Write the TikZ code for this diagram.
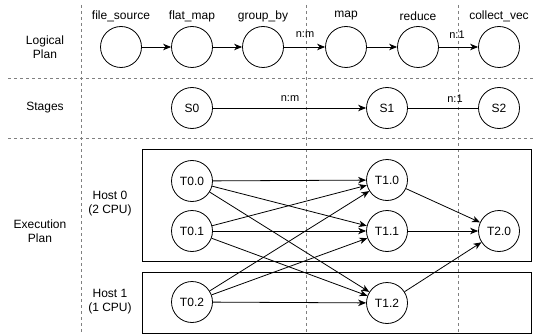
\documentclass[tikz,border=0pt]{standalone}
\usepackage{fontspec}
\setmainfont{Liberation Sans}
\usetikzlibrary{arrows.meta}
\begin{document}
\begin{tikzpicture}[x=1pt,y=-1pt,
  every node/.style={font=\fontsize{12}{14}\selectfont, align=center},
  op/.style={circle, draw, line width=0.8pt, minimum size=41pt, inner sep=0pt},
  sep/.style={draw=gray, line width=0.7pt, dash pattern=on 3pt off 3pt},
  hostbox/.style={draw, line width=0.8pt},
  arr/.style={line width=0.8pt, -{Stealth[length=8pt,width=6.5pt,inset=2.5pt]}},
  plain/.style={line width=0.8pt},
  lbl/.style={font=\fontsize{11}{13}\selectfont, inner sep=1pt}
]
\useasboundingbox (0,0) rectangle (535,334);
% separators
\draw[sep] (8,78) -- (535,78);
\draw[sep] (8,138) -- (535,138);
\draw[sep] (81,5) -- (81,334);
\draw[sep] (306,5) -- (306,334);
\draw[sep] (458,5) -- (458,334);
% row labels
\node (rl1) at (45,47) {Logical\\Plan};
\node (rl2) at (45,108) {Stages};
\node (rl3) at (40,231) {Execution\\Plan};
% logical plan
\node[op] (fs) at (121,47) {};
\node[op] (fm) at (192,47) {};
\node[op] (gb) at (263,47) {};
\node[op] (mp) at (346,47) {};
\node[op] (rd) at (418,47) {};
\node[op] (cv) at (499,47) {};
\node (tfs) at (121,16) {file\_source};
\node (tfm) at (192,16) {flat\_map};
\node (tgb) at (263,16) {group\_by};
\node (tmp) at (346,16) {map};
\node (trd) at (418,16) {reduce};
\node (tcv) at (499,16) {collect\_vec};
\draw[arr] (fs) -- (fm);
\draw[arr] (fm) -- (gb);
\draw[arr] (gb) -- (mp);
\draw[arr] (mp) -- (rd);
\draw[arr] (rd) -- (cv);
\node[lbl] (l1) at (305,35) {n:m};
\node[lbl] (l2) at (457,35) {n:1};
% stages
\node[op] (s0) at (192,108) {S0};
\node[op] (s1) at (387,108) {S1};
\node[op] (s2) at (499,108) {S2};
\draw[arr] (s0) -- (s1);
\draw[plain] (s1) -- (s2);
\node[lbl] (l3) at (290,99) {n:m};
\node[lbl] (l4) at (455,99) {n:1};
% execution
\draw[hostbox] (142,149) rectangle (531,261);
\draw[hostbox] (142,272) rectangle (531,333);
\node (h0) at (110,204) {Host 0\\(2 CPU)};
\node (h1) at (110,302) {Host 1\\(1 CPU)};
\node[op] (t00) at (192,181) {T0.0};
\node[op] (t01) at (192,231) {T0.1};
\node[op] (t02) at (192,302) {T0.2};
\node[op] (t10) at (387,180) {T1.0};
\node[op] (t11) at (387,231) {T1.1};
\node[op] (t12) at (387,303) {T1.2};
\node[op] (t20) at (499,231) {T2.0};
\foreach \a in {t00,t01,t02}{
  \foreach \b in {t10,t11,t12}{
    \draw[arr] (\a) -- (\b);
  }
}
\draw[arr] (t10) -- (t20);
\draw[arr] (t11) -- (t20);
\draw[arr] (t12) -- (t20);
\end{tikzpicture}
\end{document}
